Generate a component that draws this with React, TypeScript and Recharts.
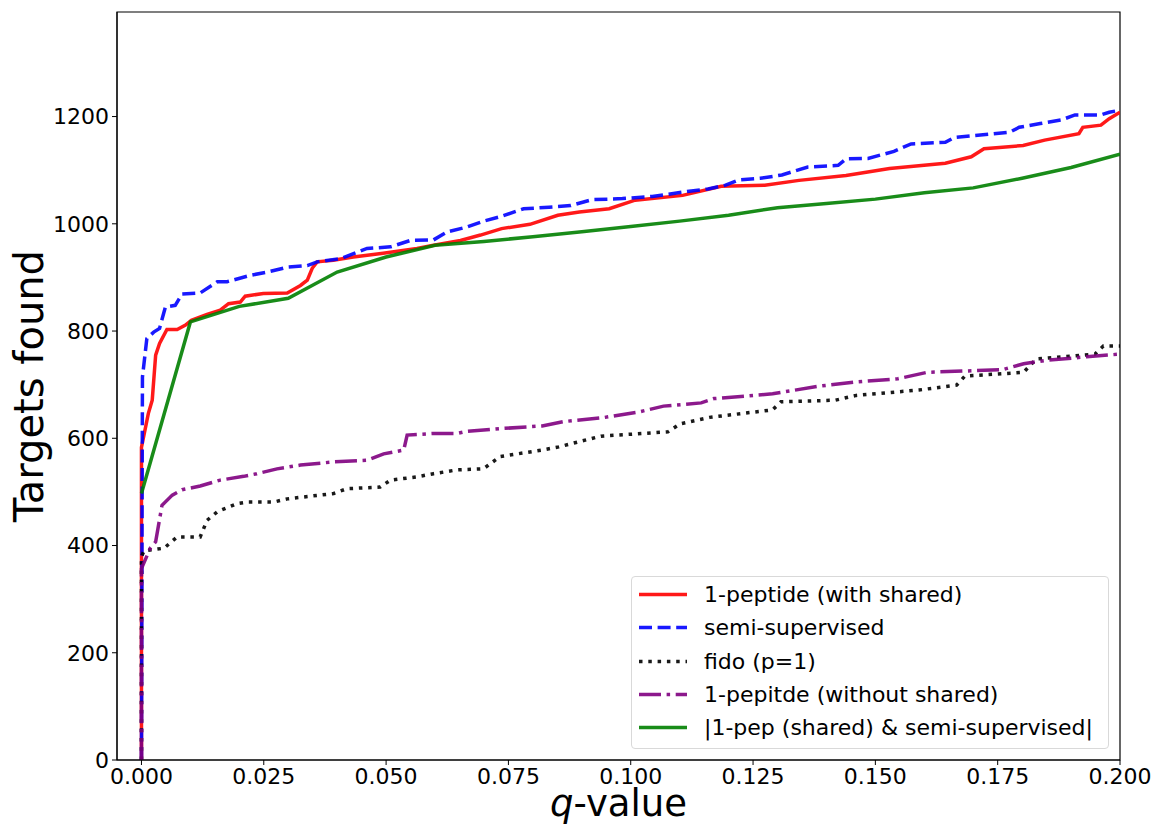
import { LineChart, Line, XAxis, YAxis, Legend, ReferenceArea } from 'recharts';

// 1-peptide (with shared)
const redQ = [0, 0, 0.0014, 0.0022, 0.0029, 0.0037, 0.0052, 0.0073, 0.009, 0.0102, 0.0134, 0.0161, 0.0178, 0.0202, 0.0212, 0.0249, 0.0298, 0.0325, 0.0339, 0.0349, 0.0359, 0.0392, 0.0433, 0.0494, 0.0563, 0.0597, 0.0652, 0.0693, 0.0736, 0.0794, 0.0851, 0.0895, 0.0956, 0.1009, 0.1106, 0.1185, 0.1274, 0.1344, 0.144, 0.1529, 0.1643, 0.1696, 0.1722, 0.1802, 0.1846, 0.1916, 0.1924, 0.1961, 0.1978, 0.2];
const redY = [0, 583, 646, 671, 755, 777, 803, 803, 811, 820, 831, 839, 851, 854, 865, 870, 871, 885, 895, 917, 929, 932, 938, 945, 954, 960, 969, 979, 991, 999, 1016, 1022, 1028, 1044, 1053, 1070, 1072, 1081, 1090, 1103, 1113, 1125, 1140, 1146, 1156, 1168, 1180, 1184, 1196, 1208];

// semi-supervised
const blueQ = [0, 0.0002, 0.0011, 0.0025, 0.0037, 0.0049, 0.0069, 0.0083, 0.012, 0.0155, 0.0175, 0.0223, 0.0257, 0.0298, 0.0339, 0.0359, 0.0407, 0.0461, 0.0509, 0.055, 0.0597, 0.0625, 0.0665, 0.0699, 0.0736, 0.0781, 0.0833, 0.0877, 0.0921, 0.0983, 0.1044, 0.1106, 0.1158, 0.1194, 0.1221, 0.1265, 0.1309, 0.1362, 0.1424, 0.144, 0.1485, 0.1538, 0.1573, 0.1643, 0.1661, 0.1732, 0.1775, 0.1794, 0.1837, 0.1881, 0.1908, 0.1961, 0.1978, 0.2];
const blueY = [0, 714, 786, 798, 805, 845, 848, 869, 871, 892, 892, 904, 910, 919, 922, 929, 935, 954, 957, 969, 970, 985, 994, 1005, 1014, 1028, 1031, 1034, 1045, 1047, 1051, 1059, 1065, 1072, 1082, 1085, 1091, 1106, 1109, 1121, 1122, 1135, 1149, 1152, 1161, 1167, 1171, 1180, 1187, 1194, 1203, 1203, 1208, 1212];

// fido (p=1)
const fidoQ = [0, 0, 0.0005, 0.0046, 0.0073, 0.012, 0.0134, 0.0155, 0.0195, 0.0216, 0.027, 0.0298, 0.0393, 0.042, 0.0488, 0.0509, 0.0563, 0.0597, 0.0645, 0.0699, 0.0733, 0.0819, 0.0853, 0.0939, 0.1076, 0.1101, 0.1161, 0.129, 0.1307, 0.1418, 0.1461, 0.1589, 0.1666, 0.1683, 0.1803, 0.1829, 0.1949, 0.1966, 0.2];
const fidoY = [0, 379, 390, 395, 416, 416, 447, 463, 478, 481, 481, 487, 497, 506, 509, 522, 528, 534, 541, 543, 566, 578, 584, 604, 612, 627, 639, 653, 668, 671, 680, 690, 699, 716, 723, 748, 757, 772, 772];

// 1-pepitde (without shared)
const purpleQ = [0, 0, 0.0018, 0.0029, 0.0042, 0.0063, 0.0083, 0.012, 0.0161, 0.0209, 0.0236, 0.0277, 0.0325, 0.0393, 0.0461, 0.0495, 0.0536, 0.0543, 0.0597, 0.0645, 0.0665, 0.0733, 0.0819, 0.0862, 0.0947, 0.1016, 0.1067, 0.1144, 0.117, 0.129, 0.1384, 0.1461, 0.1546, 0.1606, 0.176, 0.1803, 0.1846, 0.1932, 0.2];
const purpleY = [0, 357, 395, 407, 475, 494, 504, 511, 522, 529, 534, 543, 550, 556, 559, 571, 578, 606, 609, 609, 613, 618, 623, 631, 639, 649, 660, 666, 674, 683, 697, 705, 711, 723, 728, 739, 745, 752, 757];

// |1-pep (shared) & semi-supervised|
const greenQ = [0, 0.01, 0.02, 0.03, 0.04, 0.05, 0.06, 0.07, 0.08, 0.09, 0.1, 0.11, 0.12, 0.13, 0.14, 0.15, 0.16, 0.17, 0.18, 0.19, 0.2];
const greenY = [497, 817, 846, 861, 910, 938, 960, 967, 976, 985, 995, 1005, 1016, 1030, 1038, 1046, 1058, 1067, 1085, 1105, 1130];

const xTicks = [0, 0.025, 0.05, 0.075, 0.1, 0.125, 0.15, 0.175, 0.2];
const yTicks = [0, 200, 400, 600, 800, 1000, 1200];

const zip = (qs: number[], ys: number[]) => qs.map((q, i) => ({ q, y: ys[i] }));

const series = [
  { name: '1-peptide (with shared)', data: zip(redQ, redY), color: '#ff0000', dash: undefined },
  { name: 'semi-supervised', data: zip(blueQ, blueY), color: '#0000ff', dash: '13 5.6' },
  { name: 'fido (p=1)', data: zip(fidoQ, fidoY), color: '#000000', dash: '3.5 5.8' },
  { name: '1-pepitde (without shared)', data: zip(purpleQ, purpleY), color: '#800080', dash: '22 5.6 3.5 5.6' },
  { name: '|1-pep (shared) & semi-supervised|', data: zip(greenQ, greenY), color: '#008000', dash: undefined },
];

const font = 'DejaVu Sans, sans-serif';

const XLabel = (props: any) => {
  const { viewBox } = props;
  const cx = viewBox.x + viewBox.width / 2;
  return (
    <text x={cx} y={816} textAnchor="middle" fontSize={37} fontFamily={font} fill="#000">
      <tspan fontStyle="italic">q</tspan>-value
    </text>
  );
};

const YLabel = (props: any) => {
  const { viewBox } = props;
  const cy = viewBox.y + viewBox.height / 2;
  const bx = 42.5;
  return (
    <text
      x={bx}
      y={cy}
      textAnchor="middle"
      fontSize={40}
      fontFamily={font}
      fill="#000"
      transform={`rotate(-90, ${bx}, ${cy})`}
    >
      Targets found
    </text>
  );
};

const LegendBox = () => (
  <div
    style={{
      width: 476,
      height: 170,
      border: '1px solid #d9d9d9',
      borderRadius: 4,
      background: 'rgba(255,255,255,0.8)',
      fontFamily: font,
      fontSize: 22,
      paddingTop: 1,
      boxSizing: 'content-box',
    }}
  >
    {series.map((s) => (
      <div key={s.name} style={{ display: 'flex', alignItems: 'center', height: 33.3 }}>
        <svg width={64} height={33} style={{ flex: 'none' }}>
          <line x1={7} x2={55} y1={16.5} y2={16.5} stroke={s.color} strokeOpacity={0.9} strokeWidth={3.5} strokeDasharray={s.dash} />
        </svg>
        <span style={{ marginLeft: 8, whiteSpace: 'nowrap' }}>{s.name}</span>
      </div>
    ))}
  </div>
);

export default function App() {
  return (
    <div style={{ position: 'absolute', left: 0, top: 0, background: '#fff' }}>
      <LineChart width={1156} height={825} margin={{ top: 12, right: 36, bottom: 0, left: 57 }}>
        <XAxis
          type="number"
          dataKey="q"
          domain={[-0.005, 0.2]}
          allowDataOverflow
          ticks={xTicks}
          tickFormatter={(v: number) => v.toFixed(3)}
          height={65}
          tickSize={5}
          tickMargin={3}
          stroke="#000"
          tick={{ fill: '#000', fontSize: 22, fontFamily: font }}
          label={<XLabel />}
        />
        <YAxis
          type="number"
          dataKey="y"
          domain={[0, 1395]}
          allowDataOverflow
          ticks={yTicks}
          width={60}
          tickSize={5}
          tickMargin={3}
          stroke="#000"
          tick={{ fill: '#000', fontSize: 22, fontFamily: font }}
          label={<YLabel />}
        />
        <ReferenceArea x1={-0.005} x2={0.2} y1={0} y2={1395} fill="none" stroke="#000" strokeWidth={1.2} ifOverflow="visible" />
        {series.map((s) => (
          <Line
            key={s.name}
            data={s.data}
            dataKey="y"
            name={s.name}
            type="linear"
            stroke={s.color}
            strokeOpacity={0.9}
            strokeWidth={3.5}
            strokeDasharray={s.dash}
            dot={false}
            activeDot={false}
            isAnimationActive={false}
          />
        ))}
        <Legend
          layout="vertical"
          align="center"
          verticalAlign="middle"
          content={<LegendBox />}
          wrapperStyle={{ left: 631, top: 576, width: 478, height: 172 }}
        />
      </LineChart>
    </div>
  );
}
